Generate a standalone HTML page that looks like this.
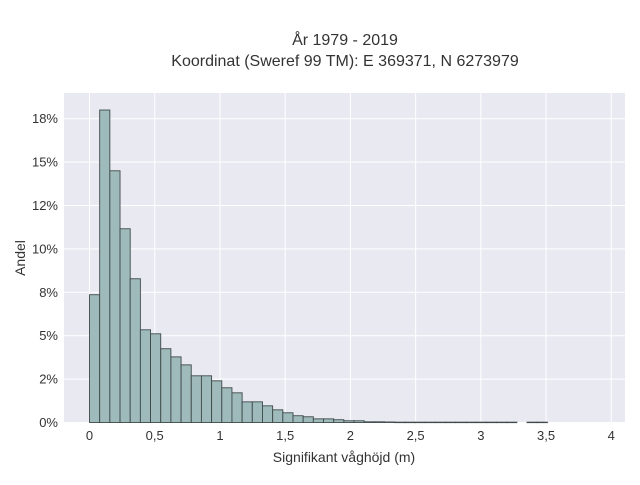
<!DOCTYPE html>
<html><head><meta charset="utf-8">
<style>
body{margin:0;background:#fff;}
svg text{font-family:"Liberation Sans",sans-serif;fill:#2a3f5f;}
</style></head>
<body>
<svg id="chart" width="640" height="480" xmlns="http://www.w3.org/2000/svg">
<rect x="0" y="0" width="640" height="480" fill="#fff"/>
<text x="345" y="45" text-anchor="middle" font-size="16" style="fill:#333">År 1979 - 2019</text>
<text x="345" y="66" text-anchor="middle" font-size="16" style="fill:#333">Koordinat (Sweref 99 TM): E 369371, N 6273979</text>
<rect x="64" y="93" width="561" height="330" fill="#e9e9f2"/>
<g id="grid"></g>
<g id="bars"></g>
<g id="ticks"></g>
<text x="344" y="462" text-anchor="middle" font-size="14" style="fill:#333">Signifikant våghöjd (m)</text>
<text x="25" y="258" text-anchor="middle" font-size="14" transform="rotate(-90 25 258)" style="fill:#333">Andel</text>
</svg>
<script>
const binWidth = 0.078;
const binValues = [7.36,18.0,14.5,11.16,8.28,5.34,5.11,4.25,3.78,3.32,2.69,2.69,2.40,2.0,1.71,1.19,1.19,0.96,0.73,0.56,0.39,0.33,0.21,0.21,0.16,0.1,0.1,0.04,0.04,0.03,0.02,0.02,0.02,0.02,0.02,0.02,0.02,0.02,0.02,0.02,0.02,0.02,0,0.02,0.02];
const xTicks = [0,0.5,1,1.5,2,2.5,3,3.5,4];
const xTickLabels = ["0","0,5","1","1,5","2","2,5","3","3,5","4"];
const yTicks = [0,2.5,5,7.5,10,12.5,15,17.5];
const yTickLabels = ["0%","2%","5%","8%","10%","12%","15%","18%"];

const NS="http://www.w3.org/2000/svg";
const X0=89.5, XS=130.45, Y0=422.5, YS=17.36;
const xs=v=>X0+v*XS, ys=v=>Y0-v*YS;
function mk(t,a,p){const e=document.createElementNS(NS,t);for(const k in a)e.setAttribute(k,a[k]);p.appendChild(e);return e;}
const grid=document.getElementById('grid'),bars=document.getElementById('bars'),ticks=document.getElementById('ticks');
xTicks.forEach((v,i)=>{
  const l=mk('line',{x1:xs(v),x2:xs(v),y1:93,y2:423,stroke:'#fff','stroke-width':1},grid);
  
  
  const t=mk('text',{x:xs(v),y:440,'text-anchor':'middle','font-size':'13',style:'fill:#333'},ticks);
  t.textContent=xTickLabels[i];
  
  
});
yTicks.forEach((v,i)=>{
  const l=mk('line',{x1:64,x2:625,y1:ys(v),y2:ys(v),stroke:'#fff','stroke-width':1},grid);
  
  
  const t=mk('text',{x:58,y:ys(v)+4.5,'text-anchor':'end','font-size':'13',style:'fill:#333'},ticks);
  t.textContent=yTickLabels[i];
  
  
});
binValues.forEach((v,i)=>{
  if(v<=0)return;
  const x1=xs(i*binWidth),x2=xs((i+1)*binWidth);
  const r=mk('rect',{x:x1,y:ys(v),width:x2-x1,height:Math.max(0.5,Y0-ys(v)),fill:'#9fbaba',stroke:'#3e4a4a','stroke-width':0.9},bars);
  
  
});
</script>
</body></html>
